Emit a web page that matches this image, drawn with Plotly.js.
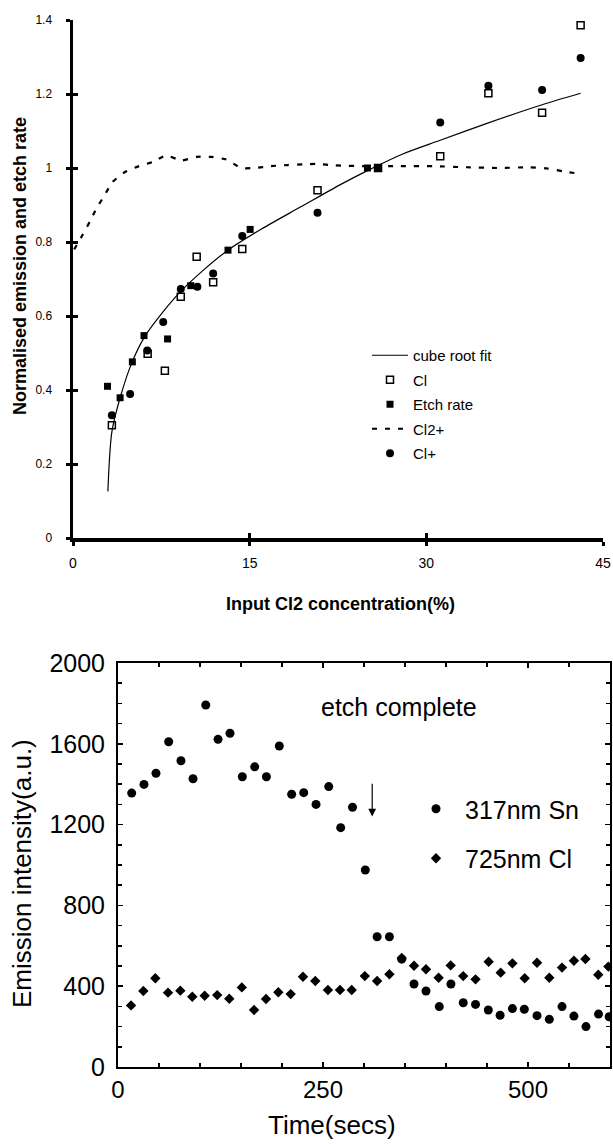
<!DOCTYPE html>
<html>
<head>
<meta charset="utf-8">
<script src="https://cdn.plot.ly/plotly-3.0.1.min.js"></script>
<style>html,body{margin:0;padding:0;background:#fff;}#chart{width:613px;height:1145px;}</style>
</head>
<body>
<div id="chart"></div>
<script>
// ---------- Top chart data: Input Cl2 concentration (%) vs normalised values ----------
const fitX = [2.96, 3.3, 4.0, 5.0, 6.1, 7.66, 9.13, 11.0, 13.16, 16.0, 19.35, 22.7, 25.0, 28.0, 31.18, 35.27, 39.83, 43.1];
const fitY = [0.126, 0.287, 0.379, 0.474, 0.545, 0.612, 0.666, 0.722, 0.778, 0.835, 0.895, 0.955, 0.993, 1.038, 1.075, 1.122, 1.171, 1.202];

const clX = [3.3, 6.34, 7.8, 9.15, 10.5, 11.9, 14.37, 20.76, 25.9, 31.18, 35.27, 39.83, 43.1];
const clY = [0.305, 0.498, 0.452, 0.652, 0.760, 0.691, 0.781, 0.940, 1.0, 1.032, 1.202, 1.149, 1.386];

const etchX = [2.93, 4.0, 5.04, 6.03, 8.03, 10.0, 13.16, 15.04, 25.0];
const etchY = [0.410, 0.379, 0.476, 0.547, 0.538, 0.682, 0.778, 0.834, 1.0];

const cl2pX = [0.1, 0.76, 1.46, 2.03, 2.68, 3.35, 4.42, 5.6, 6.82, 7.89, 9.21, 10.48, 11.75, 13.0, 14.28, 15.4, 16.8, 18.2, 19.5, 20.76, 22.2, 25.0, 27.8, 30.6, 33.4, 36.25, 38.8, 40.2, 41.6, 42.9];
const cl2pY = [0.78, 0.816, 0.857, 0.893, 0.926, 0.962, 0.989, 1.005, 1.017, 1.034, 1.020, 1.030, 1.030, 1.023, 1.000, 1.000, 1.005, 1.008, 1.010, 1.011, 1.007, 1.005, 1.005, 1.005, 1.002, 1.000, 1.002, 0.999, 0.991, 0.985];

const clpX = [3.3, 4.85, 6.31, 7.66, 9.15, 10.56, 11.9, 14.37, 20.76, 25.9, 31.18, 35.27, 39.83, 43.1];
const clpY = [0.332, 0.389, 0.507, 0.584, 0.673, 0.679, 0.715, 0.816, 0.879, 1.0, 1.123, 1.222, 1.211, 1.297];

const topXTicks = [0, 15, 30, 45];
const topYTicks = [0, 0.2, 0.4, 0.6, 0.8, 1.0, 1.2, 1.4];
const topYTickText = ["0", "0.2", "0.4", "0.6", "0.8", "1", "1.2", "1.4"];

// ---------- Bottom chart data: emission intensity vs time ----------
const snT = [16.7, 31.7, 46.3, 61.8, 76.8, 91.5, 107, 122, 136.6, 151.6, 166.7, 181, 196.7, 211.8, 226.5, 241.5, 257, 271.6, 286, 301.6, 316, 331, 346, 361, 375.6, 391.8, 406, 421, 436, 451.6, 466, 481, 495.5, 511, 526, 541.5, 556, 570.7, 586, 599];
const snV = [1356, 1399, 1454, 1610, 1516, 1427, 1792, 1622, 1652, 1437, 1486, 1437, 1589, 1350, 1358, 1300, 1388, 1185, 1286, 975, 645, 645, 534, 411, 376, 299, 411, 318, 310, 282, 256, 289, 286, 254, 236, 299, 252, 200, 262, 249];

const clT = [15.9, 30.9, 45.5, 61, 76, 90.6, 105.7, 121, 135.7, 151, 165.9, 180.5, 195.5, 210.6, 225.6, 240.6, 256, 270.7, 285, 301, 316, 331, 346, 361, 375.6, 391, 405.7, 421, 436, 452, 466.7, 481, 496, 511, 526, 541.5, 556, 570, 585.7, 598];
const clV = [305, 376, 439, 368, 378, 348, 353, 356, 338, 394, 282, 337, 370, 361, 447, 426, 381, 381, 381, 450, 426, 459, 540, 501, 484, 442, 503, 450, 434, 521, 467, 513, 439, 516, 442, 492, 526, 535, 457, 497];

const botXTicks = [0, 250, 500];
const botYTicks = [0, 400, 800, 1200, 1600, 2000];

// ---------- figure ----------
const W = 613, H = 1145;
const FONT = "Liberation Sans, Arial, sans-serif";
const px = v => v / W;          // pixel -> paper x
const py = v => 1 - v / H;      // pixel -> paper y

const traces = [
  {x: fitX, y: fitY, name: "cube root fit", mode: "lines", line: {color: "#000", width: 1.2, shape: "spline", smoothing: 0.8},
   xaxis: "x", yaxis: "y", legend: "legend", legendgroup: "g1"},
  {x: clX, y: clY, name: "Cl", mode: "markers", marker: {symbol: "square-open", size: 7, color: "#000", line: {width: 1.5, color: "#000"}},
   xaxis: "x", yaxis: "y", legend: "legend", legendgroup: "g2"},
  {x: etchX, y: etchY, name: "Etch rate", mode: "markers", marker: {symbol: "square", size: 7, color: "#000"},
   xaxis: "x", yaxis: "y", legend: "legend", legendgroup: "g3"},
  {x: cl2pX, y: cl2pY, name: "Cl2+", mode: "lines", line: {color: "#000", width: 2.2, dash: "5px,8px", shape: "spline", smoothing: 0.5},
   xaxis: "x", yaxis: "y", legend: "legend", legendgroup: "g4"},
  {x: clpX, y: clpY, name: "Cl+", mode: "markers", marker: {symbol: "circle", size: 8, color: "#000"},
   xaxis: "x", yaxis: "y", legend: "legend", legendgroup: "g5"},
  // empty traces so the overlay tick axes (inner half of the crossing ticks) get their own subplots
  {x: [], y: [], xaxis: "x3", yaxis: "y", showlegend: false, hoverinfo: "skip"},
  {x: [], y: [], xaxis: "x", yaxis: "y3", showlegend: false, hoverinfo: "skip"},

  {x: snT, y: snV, name: "317nm Sn", mode: "markers", marker: {symbol: "circle", size: 9, color: "#000"},
   xaxis: "x2", yaxis: "y2", legend: "legend2", legendgroup: "h1"},
  {x: clT, y: clV, name: "725nm Cl", mode: "markers", marker: {symbol: "diamond", size: 8, color: "#000"},
   xaxis: "x2", yaxis: "y2", legend: "legend2", legendgroup: "h2"}
];

const topXDom = [px(73), px(603)];
const topYDom = [py(538), py(20)];
const botXDom = [px(118), px(610)];
const botYDom = [py(1067), py(663)];

const layout = {
  width: W, height: H,
  margin: {l: 0, r: 0, t: 0, b: 0, pad: 0},
  paper_bgcolor: "#fff", plot_bgcolor: "rgba(0,0,0,0)",
  font: {family: FONT, color: "#000"},
  showlegend: true,
  xaxis: {domain: topXDom, anchor: "y", range: [0, 45], tickmode: "array", tickvals: topXTicks,
    ticks: "outside", ticklen: 4, tickwidth: 3, tickcolor: "#000",
    showline: true, linewidth: 3.5, linecolor: "#000", showgrid: false, zeroline: false,
    tickfont: {size: 14, family: FONT}, ticklabelstandoff: 6},
  yaxis: {domain: topYDom, anchor: "x", range: [0, 1.4], tickmode: "array", tickvals: topYTicks, ticktext: topYTickText,
    ticks: "outside", ticklen: 4, tickwidth: 3, tickcolor: "#000",
    showline: true, linewidth: 3.5, linecolor: "#000", showgrid: false, zeroline: false,
    tickfont: {size: 12, family: FONT}, ticklabelstandoff: 11},
  xaxis3: {overlaying: "x", anchor: "y", side: "bottom", range: [0, 45], tickmode: "array", tickvals: topXTicks,
    ticks: "inside", ticklen: 5, tickwidth: 3, tickcolor: "#000", showticklabels: false,
    showline: false, showgrid: false, zeroline: false},
  yaxis3: {overlaying: "y", anchor: "x", side: "left", range: [0, 1.4], tickmode: "array", tickvals: topYTicks,
    ticks: "inside", ticklen: 5, tickwidth: 3, tickcolor: "#000", showticklabels: false,
    showline: false, showgrid: false, zeroline: false},

  xaxis2: {domain: botXDom, anchor: "y2", range: [0, 600], tickmode: "array", tickvals: botXTicks,
    ticks: "inside", ticklen: 5, tickwidth: 1.5, tickcolor: "#000",
    minor: {tickmode: "linear", tick0: 0, dtick: 50, ticks: "inside", ticklen: 4, tickwidth: 1.5, tickcolor: "#000"},
    showline: true, linewidth: 2, linecolor: "#000", mirror: "ticks", showgrid: false, zeroline: false,
    tickfont: {size: 24, family: FONT}, ticklabelstandoff: 0},
  yaxis2: {domain: botYDom, anchor: "x2", range: [0, 2000], tickmode: "array", tickvals: botYTicks,
    ticks: "inside", ticklen: 5, tickwidth: 1.5, tickcolor: "#000",
    minor: {tickmode: "linear", tick0: 0, dtick: 100, ticks: "inside", ticklen: 4, tickwidth: 1.5, tickcolor: "#000"},
    showline: true, linewidth: 2, linecolor: "#000", mirror: "ticks", showgrid: false, zeroline: false,
    tickfont: {size: 25, family: FONT}, ticklabelstandoff: 6},

  legend: {x: px(367), y: py(339), xanchor: "left", yanchor: "top", bgcolor: "rgba(0,0,0,0)", borderwidth: 0,
    font: {size: 15, family: FONT}, itemwidth: 36, tracegroupgap: 2, traceorder: "grouped"},
  legend2: {x: px(407), y: py(786), xanchor: "left", yanchor: "top", bgcolor: "rgba(0,0,0,0)", borderwidth: 0,
    font: {size: 25, family: FONT}, itemwidth: 48, tracegroupgap: 14, traceorder: "grouped"},

  annotations: [
    {xref: "paper", yref: "paper", x: px(20), y: py(266), text: "<b>Normalised emission and etch rate</b>", textangle: -90,
     showarrow: false, font: {size: 18, family: FONT}, xanchor: "center", yanchor: "middle"},
    {xref: "paper", yref: "paper", x: px(340), y: py(604), text: "<b>Input Cl2 concentration(%)</b>",
     showarrow: false, font: {size: 18, family: FONT}, xanchor: "center", yanchor: "middle"},
    {xref: "paper", yref: "paper", x: px(22), y: py(874), text: "Emission intensity(a.u.)", textangle: -90,
     showarrow: false, font: {size: 26, family: FONT}, xanchor: "center", yanchor: "middle"},
    {xref: "paper", yref: "paper", x: px(332), y: py(1125), text: "Time(secs)",
     showarrow: false, font: {size: 26, family: FONT}, xanchor: "center", yanchor: "middle"},
    {xref: "x2", yref: "y2", x: 343, y: 1782, text: "etch complete",
     showarrow: false, font: {size: 25, family: FONT}, xanchor: "center", yanchor: "middle"},
    {xref: "x2", yref: "y2", x: 310, y: 1240, axref: "x2", ayref: "y2", ax: 310, ay: 1410, text: "",
     showarrow: true, arrowhead: 2, arrowsize: 1.3, arrowwidth: 1.2, arrowcolor: "#000"}
  ]
};

Plotly.newPlot("chart", traces, layout, {staticPlot: true, displayModeBar: false});
</script>
</body>
</html>
